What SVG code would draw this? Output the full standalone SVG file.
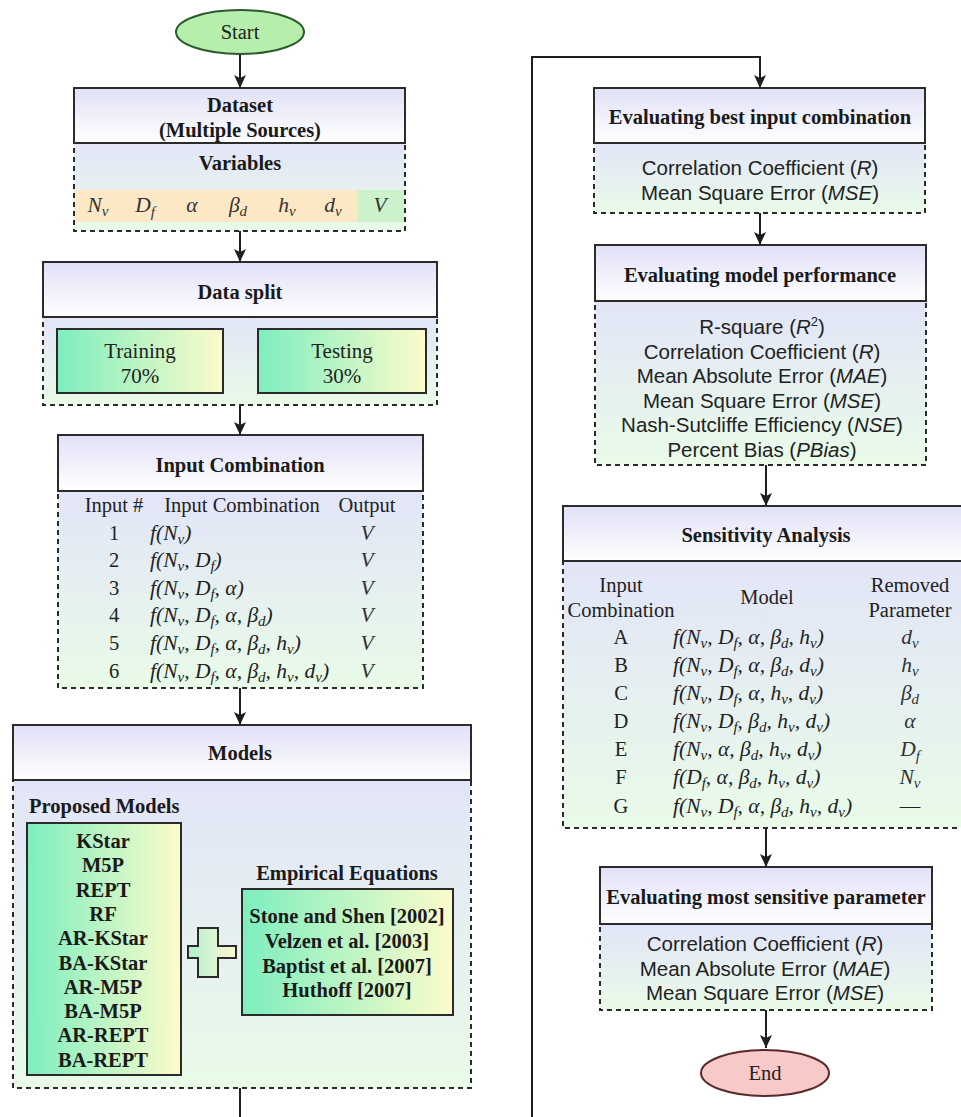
<svg xmlns="http://www.w3.org/2000/svg" width="961" height="1117" viewBox="0 0 961 1117">
<defs>
<linearGradient id="gHdr" x1="0" y1="0" x2="0" y2="1"><stop offset="0" stop-color="#e0e0f7"/><stop offset="1" stop-color="#ffffff"/></linearGradient>
<linearGradient id="gBody" x1="0" y1="0" x2="0" y2="1"><stop offset="0" stop-color="#e2e5f8"/><stop offset="1" stop-color="#e9fbe8"/></linearGradient>
<linearGradient id="gGrn" x1="0" y1="0" x2="1" y2="0"><stop offset="0" stop-color="#7deebe"/><stop offset="1" stop-color="#fdfbcb"/></linearGradient>
<linearGradient id="gPlus" x1="0" y1="0" x2="1" y2="0"><stop offset="0" stop-color="#b2f0cf"/><stop offset="1" stop-color="#fbf8d2"/></linearGradient>
<marker id="arr" markerWidth="13" markerHeight="12" refX="13" refY="6" orient="auto" markerUnits="userSpaceOnUse"><path d="M0,0 L13,6 L0,12 L3,6 z" fill="#1e1e1e"/></marker>
<style>
.hdr{fill:url(#gHdr);stroke:#2b2b2b;stroke-width:2}
.body{fill:url(#gBody);stroke:#2b2b2b;stroke-width:2;stroke-dasharray:5 4}
.grn{fill:url(#gGrn);stroke:#2b2b2b;stroke-width:2}
.ttl{font-family:"Liberation Serif",serif;font-weight:bold;font-size:20.5px;fill:#1a1a1a;text-anchor:middle}
.bl{font-family:"Liberation Serif",serif;font-weight:bold;font-size:20.5px;fill:#1a1a1a;text-anchor:middle}
.bls{font-family:"Liberation Serif",serif;font-weight:bold;font-size:20.5px;fill:#1a1a1a;text-anchor:start}
.srf{font-family:"Liberation Serif",serif;font-size:20.5px;fill:#222;text-anchor:middle}
.m{font-family:"Liberation Serif",serif;font-style:italic;font-size:21.5px;fill:#222}
.mc{font-family:"Liberation Serif",serif;font-style:italic;font-size:21.5px;fill:#333;text-anchor:middle}
.sb{font-size:15px}
.met{font-family:"Liberation Sans",Arial,sans-serif;font-size:20.5px;fill:#222;text-anchor:middle}
.conn{fill:none;stroke:#1e1e1e;stroke-width:2}
</style>
</defs>

<g id="connectors">
<line class="conn" x1="240" y1="55" x2="240" y2="88" marker-end="url(#arr)"/>
<line class="conn" x1="240" y1="231" x2="240" y2="262" marker-end="url(#arr)"/>
<line class="conn" x1="240" y1="405" x2="240" y2="435" marker-end="url(#arr)"/>
<line class="conn" x1="240" y1="688" x2="240" y2="725" marker-end="url(#arr)"/>
<line class="conn" x1="240" y1="1088" x2="240" y2="1117"/>
<polyline class="conn" points="532,1117 532,57 760,57 760,88" marker-end="url(#arr)"/>
<line class="conn" x1="760" y1="213" x2="760" y2="245" marker-end="url(#arr)"/>
<line class="conn" x1="766" y1="465" x2="766" y2="506" marker-end="url(#arr)"/>
<line class="conn" x1="766" y1="828" x2="766" y2="867" marker-end="url(#arr)"/>
<line class="conn" x1="766" y1="1010" x2="766" y2="1048" marker-end="url(#arr)"/>
</g>

<g id="start">
<ellipse cx="240" cy="32" rx="64" ry="22" fill="#b5efab" stroke="#2d5a2d" stroke-width="2"/>
<text class="srf" x="240" y="39">Start</text>
</g>

<g id="dataset">
<rect class="body" x="74" y="143" width="331" height="88"/>
<rect x="75" y="190" width="282" height="32" fill="#fde8c6"/>
<rect x="357" y="190" width="47" height="32" fill="#ccf2cc"/>
<rect class="hdr" x="74" y="88" width="331" height="55"/>
<text class="bl" x="240" y="112">Dataset</text>
<text class="bl" x="240" y="137">(Multiple Sources)</text>
<text class="bl" x="240" y="170">Variables</text>
<text class="mc" x="98" y="212">N<tspan class="sb" dy="4">v</tspan></text>
<text class="mc" x="145" y="212">D<tspan class="sb" dy="5">f</tspan></text>
<text class="mc" x="192" y="212">α</text>
<text class="mc" x="238" y="212">β<tspan class="sb" dy="4">d</tspan></text>
<text class="mc" x="287" y="212">h<tspan class="sb" dy="4">v</tspan></text>
<text class="mc" x="333" y="212">d<tspan class="sb" dy="4">v</tspan></text>
<text class="mc" x="380" y="212">V</text>
</g>

<g id="datasplit">
<rect class="body" x="43" y="317" width="394" height="88"/>
<rect class="hdr" x="43" y="262" width="394" height="55"/>
<text class="ttl" x="240" y="299">Data split</text>
<rect class="grn" x="57" y="329" width="166" height="64"/>
<rect class="grn" x="258" y="329" width="168" height="64"/>
<text class="srf" x="140" y="358" style="font-size:21px">Training</text>
<text class="srf" x="140" y="383" style="font-size:21px">70%</text>
<text class="srf" x="342" y="358" style="font-size:21px">Testing</text>
<text class="srf" x="342" y="383" style="font-size:21px">30%</text>
</g>

<g id="inputcomb">
<rect class="body" x="58" y="491" width="365" height="197"/>
<rect class="hdr" x="58" y="435" width="365" height="56"/>
<text class="ttl" x="240" y="472">Input Combination</text>
<text class="srf" x="114" y="512">Input #</text>
<text class="srf" x="242" y="512">Input Combination</text>
<text class="srf" x="367" y="512">Output</text>
<text class="srf" x="114" y="540">1</text>
<text class="srf" x="114" y="567">2</text>
<text class="srf" x="114" y="595">3</text>
<text class="srf" x="114" y="622">4</text>
<text class="srf" x="114" y="650">5</text>
<text class="srf" x="114" y="678">6</text>
<text class="m" x="150" y="540">f(N<tspan class="sb" dy="4">v</tspan><tspan dy="-4">)</tspan></text>
<text class="m" x="150" y="567">f(N<tspan class="sb" dy="4">v</tspan><tspan dy="-4">, D</tspan><tspan class="sb" dy="4">f</tspan><tspan dy="-4">)</tspan></text>
<text class="m" x="150" y="595">f(N<tspan class="sb" dy="4">v</tspan><tspan dy="-4">, D</tspan><tspan class="sb" dy="4">f</tspan><tspan dy="-4">, α)</tspan></text>
<text class="m" x="150" y="622">f(N<tspan class="sb" dy="4">v</tspan><tspan dy="-4">, D</tspan><tspan class="sb" dy="4">f</tspan><tspan dy="-4">, α, β</tspan><tspan class="sb" dy="4">d</tspan><tspan dy="-4">)</tspan></text>
<text class="m" x="150" y="650">f(N<tspan class="sb" dy="4">v</tspan><tspan dy="-4">, D</tspan><tspan class="sb" dy="4">f</tspan><tspan dy="-4">, α, β</tspan><tspan class="sb" dy="4">d</tspan><tspan dy="-4">, h</tspan><tspan class="sb" dy="4">v</tspan><tspan dy="-4">)</tspan></text>
<text class="m" x="150" y="678">f(N<tspan class="sb" dy="4">v</tspan><tspan dy="-4">, D</tspan><tspan class="sb" dy="4">f</tspan><tspan dy="-4">, α, β</tspan><tspan class="sb" dy="4">d</tspan><tspan dy="-4">, h</tspan><tspan class="sb" dy="4">v</tspan><tspan dy="-4">, d</tspan><tspan class="sb" dy="4">v</tspan><tspan dy="-4">)</tspan></text>
<text class="mc" x="367" y="540">V</text>
<text class="mc" x="367" y="567">V</text>
<text class="mc" x="367" y="595">V</text>
<text class="mc" x="367" y="622">V</text>
<text class="mc" x="367" y="650">V</text>
<text class="mc" x="367" y="678">V</text>
</g>

<g id="models">
<rect class="body" x="13" y="780" width="458" height="308"/>
<rect class="hdr" x="13" y="725" width="458" height="55"/>
<text class="ttl" x="240" y="760">Models</text>
<text class="bls" x="29" y="813">Proposed Models</text>
<rect class="grn" x="27" y="823" width="154" height="252"/>
<text class="bl" x="103" y="848">KStar</text>
<text class="bl" x="103" y="872">M5P</text>
<text class="bl" x="103" y="897">REPT</text>
<text class="bl" x="103" y="921">RF</text>
<text class="bl" x="103" y="945">AR-KStar</text>
<text class="bl" x="103" y="970">BA-KStar</text>
<text class="bl" x="103" y="994">AR-M5P</text>
<text class="bl" x="103" y="1018">BA-M5P</text>
<text class="bl" x="103" y="1042">AR-REPT</text>
<text class="bl" x="103" y="1067">BA-REPT</text>
<path d="M198,928 H218 V946 H236 V958 H218 V977 H198 V958 H188 V946 H198 Z" fill="url(#gPlus)" stroke="#2b2b2b" stroke-width="2"/>
<text class="bl" x="347" y="880">Empirical Equations</text>
<rect class="grn" x="242" y="889" width="211" height="126"/>
<text class="bl" x="347" y="923">Stone and Shen [2002]</text>
<text class="bl" x="347" y="948">Velzen et al. [2003]</text>
<text class="bl" x="347" y="973">Baptist et al. [2007]</text>
<text class="bl" x="347" y="997">Huthoff [2007]</text>
</g>

<g id="evalbest">
<rect class="body" x="594" y="143" width="331" height="70"/>
<rect class="hdr" x="594" y="88" width="331" height="55"/>
<text class="ttl" x="760" y="124">Evaluating best input combination</text>
<text class="met" x="760" y="175">Correlation Coefficient (<tspan font-style="italic">R</tspan>)</text>
<text class="met" x="760" y="200">Mean Square Error (<tspan font-style="italic">MSE</tspan>)</text>
</g>

<g id="evalperf">
<rect class="body" x="595" y="301" width="331" height="164"/>
<rect class="hdr" x="595" y="245" width="331" height="56"/>
<text class="ttl" x="760" y="282">Evaluating model performance</text>
<text class="met" x="762" y="334">R-square (<tspan font-style="italic">R</tspan><tspan font-size="13" dy="-8">2</tspan><tspan dy="8">)</tspan></text>
<text class="met" x="762" y="359">Correlation Coefficient (<tspan font-style="italic">R</tspan>)</text>
<text class="met" x="762" y="383">Mean Absolute Error (<tspan font-style="italic">MAE</tspan>)</text>
<text class="met" x="762" y="408">Mean Square Error (<tspan font-style="italic">MSE</tspan>)</text>
<text class="met" x="762" y="432">Nash-Sutcliffe Efficiency (<tspan font-style="italic">NSE</tspan>)</text>
<text class="met" x="762" y="457">Percent Bias (<tspan font-style="italic">PBias</tspan>)</text>
</g>

<g id="sensitivity">
<rect class="body" x="563" y="561" width="410" height="267"/>
<rect class="hdr" x="563" y="506" width="410" height="55"/>
<text class="ttl" x="766" y="542">Sensitivity Analysis</text>
<text class="srf" x="621" y="592">Input</text>
<text class="srf" x="621" y="617">Combination</text>
<text class="srf" x="767" y="604">Model</text>
<text class="srf" x="910" y="592">Removed</text>
<text class="srf" x="910" y="617">Parameter</text>
<text class="srf" x="621" y="644">A</text>
<text class="srf" x="621" y="672">B</text>
<text class="srf" x="621" y="700">C</text>
<text class="srf" x="621" y="728">D</text>
<text class="srf" x="621" y="756">E</text>
<text class="srf" x="621" y="784">F</text>
<text class="srf" x="621" y="813">G</text>
<text class="m" x="673" y="644">f(N<tspan class="sb" dy="4">v</tspan><tspan dy="-4">, D</tspan><tspan class="sb" dy="4">f</tspan><tspan dy="-4">, α, β</tspan><tspan class="sb" dy="4">d</tspan><tspan dy="-4">, h</tspan><tspan class="sb" dy="4">v</tspan><tspan dy="-4">)</tspan></text>
<text class="m" x="673" y="672">f(N<tspan class="sb" dy="4">v</tspan><tspan dy="-4">, D</tspan><tspan class="sb" dy="4">f</tspan><tspan dy="-4">, α, β</tspan><tspan class="sb" dy="4">d</tspan><tspan dy="-4">, d</tspan><tspan class="sb" dy="4">v</tspan><tspan dy="-4">)</tspan></text>
<text class="m" x="673" y="700">f(N<tspan class="sb" dy="4">v</tspan><tspan dy="-4">, D</tspan><tspan class="sb" dy="4">f</tspan><tspan dy="-4">, α, h</tspan><tspan class="sb" dy="4">v</tspan><tspan dy="-4">, d</tspan><tspan class="sb" dy="4">v</tspan><tspan dy="-4">)</tspan></text>
<text class="m" x="673" y="728">f(N<tspan class="sb" dy="4">v</tspan><tspan dy="-4">, D</tspan><tspan class="sb" dy="4">f</tspan><tspan dy="-4">, β</tspan><tspan class="sb" dy="4">d</tspan><tspan dy="-4">, h</tspan><tspan class="sb" dy="4">v</tspan><tspan dy="-4">, d</tspan><tspan class="sb" dy="4">v</tspan><tspan dy="-4">)</tspan></text>
<text class="m" x="673" y="756">f(N<tspan class="sb" dy="4">v</tspan><tspan dy="-4">, α, β</tspan><tspan class="sb" dy="4">d</tspan><tspan dy="-4">, h</tspan><tspan class="sb" dy="4">v</tspan><tspan dy="-4">, d</tspan><tspan class="sb" dy="4">v</tspan><tspan dy="-4">)</tspan></text>
<text class="m" x="673" y="784">f(D<tspan class="sb" dy="4">f</tspan><tspan dy="-4">, α, β</tspan><tspan class="sb" dy="4">d</tspan><tspan dy="-4">, h</tspan><tspan class="sb" dy="4">v</tspan><tspan dy="-4">, d</tspan><tspan class="sb" dy="4">v</tspan><tspan dy="-4">)</tspan></text>
<text class="m" x="673" y="813">f(N<tspan class="sb" dy="4">v</tspan><tspan dy="-4">, D</tspan><tspan class="sb" dy="4">f</tspan><tspan dy="-4">, α, β</tspan><tspan class="sb" dy="4">d</tspan><tspan dy="-4">, h</tspan><tspan class="sb" dy="4">v</tspan><tspan dy="-4">, d</tspan><tspan class="sb" dy="4">v</tspan><tspan dy="-4">)</tspan></text>
<text class="mc" x="910" y="644">d<tspan class="sb" dy="4">v</tspan></text>
<text class="mc" x="910" y="672">h<tspan class="sb" dy="4">v</tspan></text>
<text class="mc" x="910" y="700">β<tspan class="sb" dy="4">d</tspan></text>
<text class="mc" x="910" y="728">α</text>
<text class="mc" x="910" y="756">D<tspan class="sb" dy="5">f</tspan></text>
<text class="mc" x="910" y="784">N<tspan class="sb" dy="4">v</tspan></text>
<text class="srf" x="910" y="813">—</text>
</g>

<g id="evalsens">
<rect class="body" x="600" y="924" width="332" height="86"/>
<rect class="hdr" x="600" y="867" width="332" height="57"/>
<text class="ttl" x="766" y="904">Evaluating most sensitive parameter</text>
<text class="met" x="765" y="951">Correlation Coefficient (<tspan font-style="italic">R</tspan>)</text>
<text class="met" x="765" y="976">Mean Absolute Error (<tspan font-style="italic">MAE</tspan>)</text>
<text class="met" x="765" y="1000">Mean Square Error (<tspan font-style="italic">MSE</tspan>)</text>
</g>

<g id="end">
<ellipse cx="765" cy="1073" rx="64" ry="23" fill="#f8c9c9" stroke="#5a2a2a" stroke-width="2"/>
<text class="srf" x="765" y="1080">End</text>
</g>
</svg>
